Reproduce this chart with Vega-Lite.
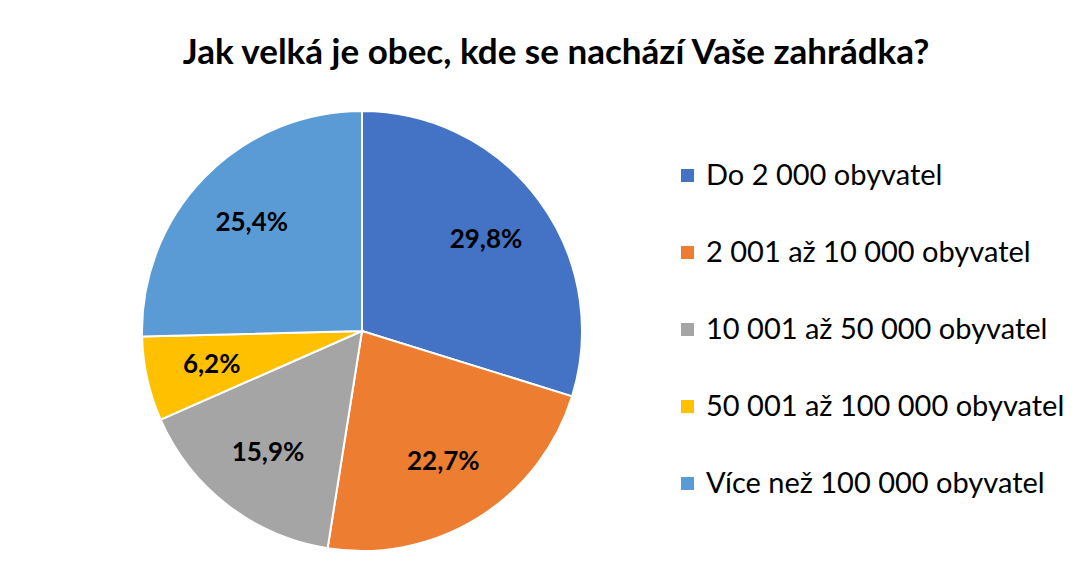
{
  "$schema": "https://vega.github.io/schema/vega-lite/v6.json",
  "width": 440,
  "height": 440,
  "autosize": {"type": "pad"},
  "padding": {"left": 138, "top": 36, "right": 0, "bottom": 0},
  "background": "white",
  "title": {
    "text": "Jak velká je obec, kde se nachází Vaše zahrádka?",
    "font": "Lato",
    "fontSize": 35,
    "fontWeight": "bold",
    "color": "#000000",
    "anchor": "middle",
    "dx": 194,
    "offset": 36
  },
  "config": {
    "view": {"stroke": null},
    "locale": {
      "number": {"decimal": ",", "thousands": " ", "grouping": [3], "currency": ["", " Kč"]}
    },
    "legend": {
      "orient": "none",
      "legendX": 531,
      "legendY": 50,
      "title": null,
      "symbolType": "square",
      "symbolSize": 169,
      "symbolStrokeWidth": 0,
      "labelFont": "Lato",
      "labelFontSize": 29,
      "labelColor": "#000000",
      "labelLimit": 500,
      "labelOffset": 4,
      "rowPadding": 47
    }
  },
  "data": {
    "values": [
      {"cat": "Do 2 000 obyvatel", "share": 0.298, "order": 1},
      {"cat": "2 001 až 10 000 obyvatel", "share": 0.227, "order": 2},
      {"cat": "10 001 až 50 000 obyvatel", "share": 0.159, "order": 3},
      {"cat": "50 001 až 100 000 obyvatel", "share": 0.062, "order": 4},
      {"cat": "Více než 100 000 obyvatel", "share": 0.254, "order": 5}
    ]
  },
  "encoding": {
    "theta": {"field": "share", "type": "quantitative", "stack": true},
    "order": {"field": "order", "type": "quantitative"}
  },
  "layer": [
    {
      "mark": {"type": "arc", "stroke": "#ffffff", "strokeWidth": 2},
      "encoding": {
        "color": {
          "field": "cat",
          "type": "nominal",
          "scale": {
            "domain": ["Do 2 000 obyvatel", "2 001 až 10 000 obyvatel", "10 001 až 50 000 obyvatel", "50 001 až 100 000 obyvatel", "Více než 100 000 obyvatel"],
            "range": ["#4472C4", "#ED7D31", "#A5A5A5", "#FFC000", "#5B9BD5"]
          }
        }
      }
    },
    {
      "mark": {"type": "text", "radius": 154, "font": "Lato", "fontSize": 26, "fontWeight": "bold", "color": "#000000"},
      "encoding": {
        "detail": {"field": "cat", "type": "nominal"},
        "text": {"field": "share", "type": "quantitative", "format": ".1%"}
      }
    }
  ]
}
